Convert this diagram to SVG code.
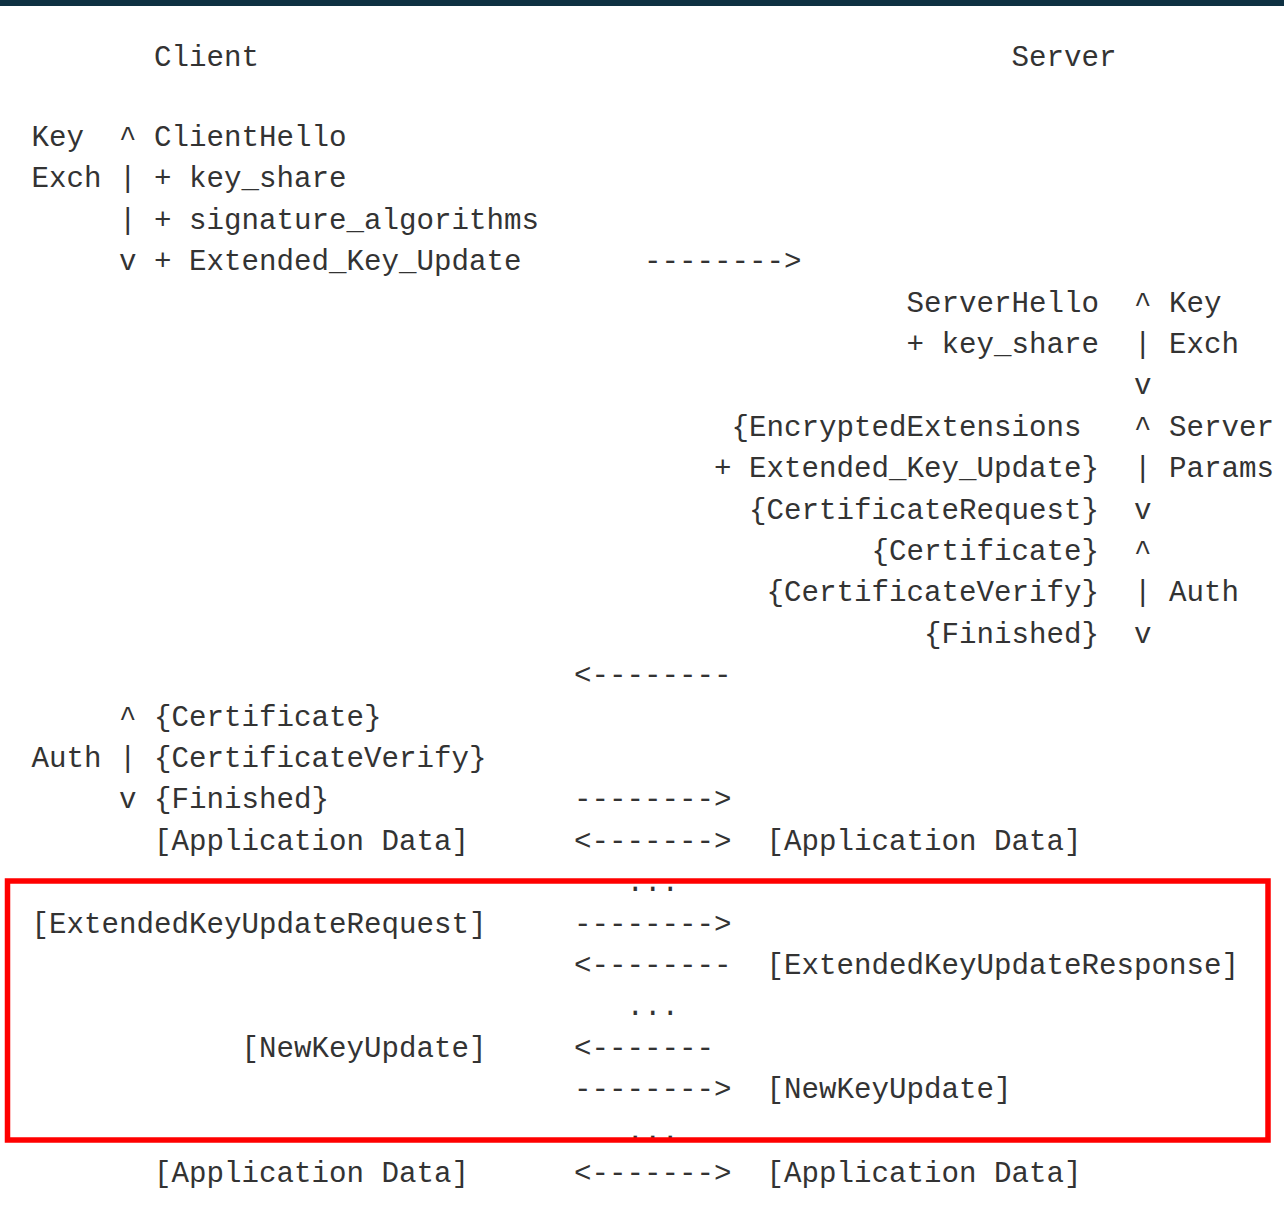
<svg xmlns="http://www.w3.org/2000/svg" width="1284" height="1207" viewBox="0 0 1284 1207">
<style>
text{font-family:"Liberation Mono","DejaVu Sans Mono",monospace;font-size:29.17px;fill:#333;white-space:pre}
</style>
<rect x="0" y="0" width="1284" height="1207" fill="#fff"/>
<rect x="0" y="0" width="1284" height="6" fill="#0e3142"/>
<g transform="translate(1.5,1)">
<g id="headers">
<text x="152.5" y="65">Client</text>
<text x="1010" y="65">Server</text>
</g>
<g id="client">
<text x="30" y="145">Key</text><text x="117.5" y="145">^</text><text x="152.5" y="145">ClientHello</text>
<text x="30" y="186.4">Exch</text><text x="117.5" y="186.4">|</text><text x="152.5" y="186.4">+ key_share</text>
<text x="117.5" y="227.8">|</text><text x="152.5" y="227.8">+ signature_algorithms</text>
<text x="117.5" y="269.2">v</text><text x="152.5" y="269.2">+ Extended_Key_Update</text>
<text x="117.5" y="724.6">^</text><text x="152.5" y="724.6">{Certificate}</text>
<text x="30" y="766">Auth</text><text x="117.5" y="766">|</text><text x="152.5" y="766">{CertificateVerify}</text>
<text x="117.5" y="807.4">v</text><text x="152.5" y="807.4">{Finished}</text>
<text x="152.5" y="848.8">[Application Data]</text>
<text x="30" y="931.6">[ExtendedKeyUpdateRequest]</text>
<text x="240" y="1055.8">[NewKeyUpdate]</text>
<text x="152.5" y="1181">[Application Data]</text>
</g>
<g id="server">
<text x="905" y="310.6">ServerHello</text><text x="1132.5" y="310.6">^</text><text x="1167.5" y="310.6">Key</text>
<text x="905" y="352">+ key_share</text><text x="1132.5" y="352">|</text><text x="1167.5" y="352">Exch</text>
<text x="1132.5" y="393.4">v</text>
<text x="730" y="434.8">{EncryptedExtensions</text><text x="1132.5" y="434.8">^</text><text x="1167.5" y="434.8">Server</text>
<text x="712.5" y="476.2">+ Extended_Key_Update}</text><text x="1132.5" y="476.2">|</text><text x="1167.5" y="476.2">Params</text>
<text x="747.5" y="517.6">{CertificateRequest}</text><text x="1132.5" y="517.6">v</text>
<text x="870" y="559">{Certificate}</text><text x="1132.5" y="559">^</text>
<text x="765" y="600.4">{CertificateVerify}</text><text x="1132.5" y="600.4">|</text><text x="1167.5" y="600.4">Auth</text>
<text x="922.5" y="641.8">{Finished}</text><text x="1132.5" y="641.8">v</text>
<text x="765" y="848.8">[Application Data]</text>
<text x="765" y="973">[ExtendedKeyUpdateResponse]</text>
<text x="765" y="1097.2">[NewKeyUpdate]</text>
<text x="765" y="1181">[Application Data]</text>
</g>
<g id="connectors">
<text x="642.5" y="269.2">--------&gt;</text>
<text x="572.5" y="683.2">&lt;--------</text>
<text x="572.5" y="807.4">--------&gt;</text>
<text x="572.5" y="848.8">&lt;-------&gt;</text>
<text x="625" y="890.2">...</text>
<text x="572.5" y="931.6">--------&gt;</text>
<text x="572.5" y="973">&lt;--------</text>
<text x="625" y="1014.4">...</text>
<text x="572.5" y="1055.8">&lt;-------</text>
<text x="572.5" y="1097.2">--------&gt;</text>
<text x="625" y="1138.6">...</text>
<text x="572.5" y="1181">&lt;-------&gt;</text>
</g>
</g>
<rect id="highlight" x="7.5" y="881" width="1260.5" height="259" fill="none" stroke="#ff0000" stroke-width="5.5"/>
</svg>
